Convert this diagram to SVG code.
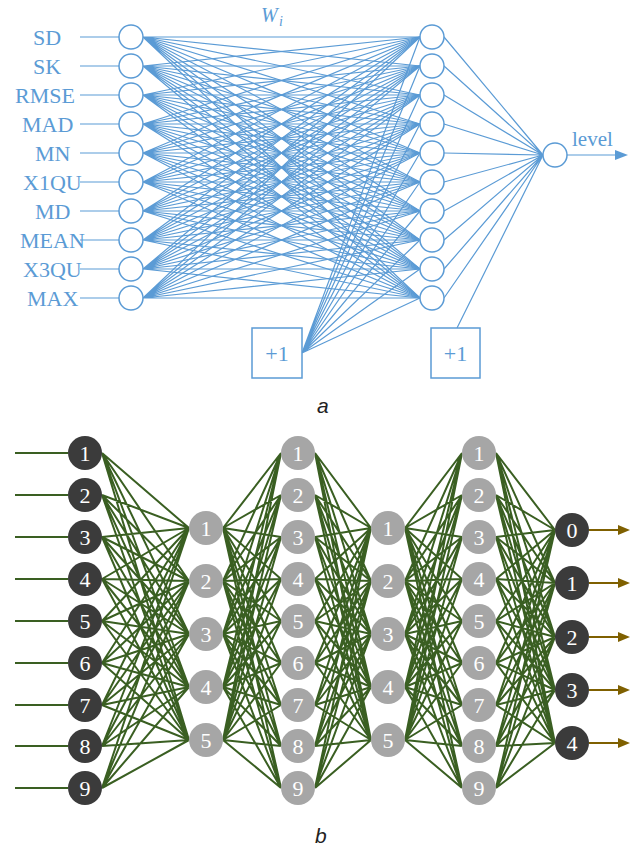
<svg xmlns="http://www.w3.org/2000/svg" width="632" height="846" viewBox="0 0 632 846">
<style>
.bl{stroke:#5b9bd5;stroke-width:1.2;fill:none}
.bn{fill:#fff;stroke:#5b9bd5;stroke-width:1.5}
.bt{font-family:'Liberation Serif','Times New Roman',Tinos,'DejaVu Serif',serif;font-size:22px;fill:#5b9bd5}
.gl{stroke:#3a5f22;stroke-width:2;fill:none}
.dk{fill:#3b3b3b}
.gy{fill:#a6a6a6}
.nt{font-family:'Liberation Serif','Times New Roman',Tinos,'DejaVu Serif',serif;font-size:22px;fill:#fff;text-anchor:middle}
.ar{stroke:#7f6000;stroke-width:2}
.cap{font-family:'Liberation Sans',Arial,sans-serif;font-style:italic;font-size:21px;fill:#222}
</style>
<rect width="632" height="846" fill="#fff"/>
<g id="edges-a">
<path class="bl" d="M143 37 420 37M143 37 420 66M143 37 420 95M143 37 420 124M143 37 420 153M143 37 420 182M143 37 420 211M143 37 420 240M143 37 420 269M143 37 420 298"/>
<path class="bl" d="M143 66 420 37M143 66 420 66M143 66 420 95M143 66 420 124M143 66 420 153M143 66 420 182M143 66 420 211M143 66 420 240M143 66 420 269M143 66 420 298"/>
<path class="bl" d="M143 95 420 37M143 95 420 66M143 95 420 95M143 95 420 124M143 95 420 153M143 95 420 182M143 95 420 211M143 95 420 240M143 95 420 269M143 95 420 298"/>
<path class="bl" d="M143 124 420 37M143 124 420 66M143 124 420 95M143 124 420 124M143 124 420 153M143 124 420 182M143 124 420 211M143 124 420 240M143 124 420 269M143 124 420 298"/>
<path class="bl" d="M143 153 420 37M143 153 420 66M143 153 420 95M143 153 420 124M143 153 420 153M143 153 420 182M143 153 420 211M143 153 420 240M143 153 420 269M143 153 420 298"/>
<path class="bl" d="M143 182 420 37M143 182 420 66M143 182 420 95M143 182 420 124M143 182 420 153M143 182 420 182M143 182 420 211M143 182 420 240M143 182 420 269M143 182 420 298"/>
<path class="bl" d="M143 211 420 37M143 211 420 66M143 211 420 95M143 211 420 124M143 211 420 153M143 211 420 182M143 211 420 211M143 211 420 240M143 211 420 269M143 211 420 298"/>
<path class="bl" d="M143 240 420 37M143 240 420 66M143 240 420 95M143 240 420 124M143 240 420 153M143 240 420 182M143 240 420 211M143 240 420 240M143 240 420 269M143 240 420 298"/>
<path class="bl" d="M143 269 420 37M143 269 420 66M143 269 420 95M143 269 420 124M143 269 420 153M143 269 420 182M143 269 420 211M143 269 420 240M143 269 420 269M143 269 420 298"/>
<path class="bl" d="M143 298 420 37M143 298 420 66M143 298 420 95M143 298 420 124M143 298 420 153M143 298 420 182M143 298 420 211M143 298 420 240M143 298 420 269M143 298 420 298"/>
<path class="bl" d="M302 353 420 37M302 353 420 66M302 353 420 95M302 353 420 124M302 353 420 153M302 353 420 182M302 353 420 211M302 353 420 240M302 353 420 269M302 353 420 298"/>
<path class="bl" d="M444 37 543 155M444 66 543 155M444 95 543 155M444 124 543 155M444 153 543 155M444 182 543 155M444 211 543 155M444 240 543 155M444 269 543 155M444 298 543 155M457 328 543 155"/>
<path class="bl" d="M80 37H119M80 66H119M80 95H119M80 124H119M80 153H119M80 182H119M80 211H119M80 240H119M80 269H119M80 298H119"/>
<path class="bl" d="M567 155H618"/>
<polygon points="615,150 628,155 615,160" fill="#5b9bd5"/>
</g>
<g id="labels-a" class="bt">
<text x="33" y="45">SD</text>
<text x="33" y="74">SK</text>
<text x="15" y="103">RMSE</text>
<text x="22" y="132">MAD</text>
<text x="35" y="161">MN</text>
<text x="23" y="190">X1QU</text>
<text x="35" y="219">MD</text>
<text x="20" y="248">MEAN</text>
<text x="23" y="277">X3QU</text>
<text x="27" y="306">MAX</text>
<text x="572" y="146" style="font-size:21px">level</text>
<text x="261" y="22" style="font-style:italic;font-size:20px">W</text>
<text x="279" y="26" style="font-style:italic;font-size:14px">i</text>
</g>
<g id="input-a">
<circle class="bn" cx="131" cy="37" r="12"/><circle class="bn" cx="131" cy="66" r="12"/><circle class="bn" cx="131" cy="95" r="12"/><circle class="bn" cx="131" cy="124" r="12"/><circle class="bn" cx="131" cy="153" r="12"/><circle class="bn" cx="131" cy="182" r="12"/><circle class="bn" cx="131" cy="211" r="12"/><circle class="bn" cx="131" cy="240" r="12"/><circle class="bn" cx="131" cy="269" r="12"/><circle class="bn" cx="131" cy="298" r="12"/>
</g>
<g id="hidden-a">
<circle class="bn" cx="432" cy="37" r="12"/><circle class="bn" cx="432" cy="66" r="12"/><circle class="bn" cx="432" cy="95" r="12"/><circle class="bn" cx="432" cy="124" r="12"/><circle class="bn" cx="432" cy="153" r="12"/><circle class="bn" cx="432" cy="182" r="12"/><circle class="bn" cx="432" cy="211" r="12"/><circle class="bn" cx="432" cy="240" r="12"/><circle class="bn" cx="432" cy="269" r="12"/><circle class="bn" cx="432" cy="298" r="12"/>
</g>
<g id="output-a"><circle class="bn" cx="555" cy="155" r="12"/></g>
<g id="bias1-a"><rect class="bn" x="252" y="328" width="50" height="50"/><text class="bt" x="277" y="361" text-anchor="middle">+1</text></g>
<g id="bias2-a"><rect class="bn" x="431" y="328" width="49" height="50"/><text class="bt" x="455.5" y="361" text-anchor="middle">+1</text></g>
<text class="cap" x="317" y="413">a</text>
<g id="edges-b">
<path class="gl" d="M15 453H68M15 495H68M15 537H68M15 579H68M15 621H68M15 663H68M15 705H68M15 746H68M15 788H68"/>
<path class="gl" d="M102 453 189 528M102 453 189 581M102 453 189 634M102 453 189 687M102 453 189 740M102 495 189 528M102 495 189 581M102 495 189 634M102 495 189 687M102 495 189 740M102 537 189 528M102 537 189 581M102 537 189 634M102 537 189 687M102 537 189 740M102 579 189 528M102 579 189 581M102 579 189 634M102 579 189 687M102 579 189 740M102 621 189 528M102 621 189 581M102 621 189 634M102 621 189 687M102 621 189 740M102 663 189 528M102 663 189 581M102 663 189 634M102 663 189 687M102 663 189 740M102 705 189 528M102 705 189 581M102 705 189 634M102 705 189 687M102 705 189 740M102 746 189 528M102 746 189 581M102 746 189 634M102 746 189 687M102 746 189 740M102 788 189 528M102 788 189 581M102 788 189 634M102 788 189 687M102 788 189 740"/>
<path class="gl" d="M223 528 281 453M223 528 281 495M223 528 281 537M223 528 281 579M223 528 281 621M223 528 281 663M223 528 281 705M223 528 281 746M223 528 281 788M223 581 281 453M223 581 281 495M223 581 281 537M223 581 281 579M223 581 281 621M223 581 281 663M223 581 281 705M223 581 281 746M223 581 281 788M223 634 281 453M223 634 281 495M223 634 281 537M223 634 281 579M223 634 281 621M223 634 281 663M223 634 281 705M223 634 281 746M223 634 281 788M223 687 281 453M223 687 281 495M223 687 281 537M223 687 281 579M223 687 281 621M223 687 281 663M223 687 281 705M223 687 281 746M223 687 281 788M223 740 281 453M223 740 281 495M223 740 281 537M223 740 281 579M223 740 281 621M223 740 281 663M223 740 281 705M223 740 281 746M223 740 281 788"/>
<path class="gl" d="M315 453 371 528M315 453 371 581M315 453 371 634M315 453 371 687M315 453 371 740M315 495 371 528M315 495 371 581M315 495 371 634M315 495 371 687M315 495 371 740M315 537 371 528M315 537 371 581M315 537 371 634M315 537 371 687M315 537 371 740M315 579 371 528M315 579 371 581M315 579 371 634M315 579 371 687M315 579 371 740M315 621 371 528M315 621 371 581M315 621 371 634M315 621 371 687M315 621 371 740M315 663 371 528M315 663 371 581M315 663 371 634M315 663 371 687M315 663 371 740M315 705 371 528M315 705 371 581M315 705 371 634M315 705 371 687M315 705 371 740M315 746 371 528M315 746 371 581M315 746 371 634M315 746 371 687M315 746 371 740M315 788 371 528M315 788 371 581M315 788 371 634M315 788 371 687M315 788 371 740"/>
<path class="gl" d="M405 528 462 453M405 528 462 495M405 528 462 537M405 528 462 579M405 528 462 621M405 528 462 663M405 528 462 705M405 528 462 746M405 528 462 788M405 581 462 453M405 581 462 495M405 581 462 537M405 581 462 579M405 581 462 621M405 581 462 663M405 581 462 705M405 581 462 746M405 581 462 788M405 634 462 453M405 634 462 495M405 634 462 537M405 634 462 579M405 634 462 621M405 634 462 663M405 634 462 705M405 634 462 746M405 634 462 788M405 687 462 453M405 687 462 495M405 687 462 537M405 687 462 579M405 687 462 621M405 687 462 663M405 687 462 705M405 687 462 746M405 687 462 788M405 740 462 453M405 740 462 495M405 740 462 537M405 740 462 579M405 740 462 621M405 740 462 663M405 740 462 705M405 740 462 746M405 740 462 788"/>
<path class="gl" d="M496 453 555 530M496 453 555 583M496 453 555 637M496 453 555 690M496 453 555 743M496 495 555 530M496 495 555 583M496 495 555 637M496 495 555 690M496 495 555 743M496 537 555 530M496 537 555 583M496 537 555 637M496 537 555 690M496 537 555 743M496 579 555 530M496 579 555 583M496 579 555 637M496 579 555 690M496 579 555 743M496 621 555 530M496 621 555 583M496 621 555 637M496 621 555 690M496 621 555 743M496 663 555 530M496 663 555 583M496 663 555 637M496 663 555 690M496 663 555 743M496 705 555 530M496 705 555 583M496 705 555 637M496 705 555 690M496 705 555 743M496 746 555 530M496 746 555 583M496 746 555 637M496 746 555 690M496 746 555 743M496 788 555 530M496 788 555 583M496 788 555 637M496 788 555 690M496 788 555 743"/>
<path class="ar" d="M589 530H620M589 583H620M589 637H620M589 690H620M589 743H620"/>
<path fill="#7f6000" d="M618 525 630 530 618 535ZM618 578 630 583 618 588ZM618 632 630 637 618 642ZM618 685 630 690 618 695ZM618 738 630 743 618 748Z"/>
</g>
<g id="layer1-b">
<circle class="dk" cx="85" cy="453" r="17"/><text class="nt" x="85" y="461">1</text>
<circle class="dk" cx="85" cy="495" r="17"/><text class="nt" x="85" y="503">2</text>
<circle class="dk" cx="85" cy="537" r="17"/><text class="nt" x="85" y="545">3</text>
<circle class="dk" cx="85" cy="579" r="17"/><text class="nt" x="85" y="587">4</text>
<circle class="dk" cx="85" cy="621" r="17"/><text class="nt" x="85" y="629">5</text>
<circle class="dk" cx="85" cy="663" r="17"/><text class="nt" x="85" y="671">6</text>
<circle class="dk" cx="85" cy="705" r="17"/><text class="nt" x="85" y="713">7</text>
<circle class="dk" cx="85" cy="746" r="17"/><text class="nt" x="85" y="754">8</text>
<circle class="dk" cx="85" cy="788" r="17"/><text class="nt" x="85" y="796">9</text>
</g>
<g id="layer2-b">
<circle class="gy" cx="206" cy="528" r="17"/><text class="nt" x="206" y="536">1</text>
<circle class="gy" cx="206" cy="581" r="17"/><text class="nt" x="206" y="589">2</text>
<circle class="gy" cx="206" cy="634" r="17"/><text class="nt" x="206" y="642">3</text>
<circle class="gy" cx="206" cy="687" r="17"/><text class="nt" x="206" y="695">4</text>
<circle class="gy" cx="206" cy="740" r="17"/><text class="nt" x="206" y="748">5</text>
</g>
<g id="layer3-b">
<circle class="gy" cx="298" cy="453" r="17"/><text class="nt" x="298" y="461">1</text>
<circle class="gy" cx="298" cy="495" r="17"/><text class="nt" x="298" y="503">2</text>
<circle class="gy" cx="298" cy="537" r="17"/><text class="nt" x="298" y="545">3</text>
<circle class="gy" cx="298" cy="579" r="17"/><text class="nt" x="298" y="587">4</text>
<circle class="gy" cx="298" cy="621" r="17"/><text class="nt" x="298" y="629">5</text>
<circle class="gy" cx="298" cy="663" r="17"/><text class="nt" x="298" y="671">6</text>
<circle class="gy" cx="298" cy="705" r="17"/><text class="nt" x="298" y="713">7</text>
<circle class="gy" cx="298" cy="746" r="17"/><text class="nt" x="298" y="754">8</text>
<circle class="gy" cx="298" cy="788" r="17"/><text class="nt" x="298" y="796">9</text>
</g>
<g id="layer4-b">
<circle class="gy" cx="388" cy="528" r="17"/><text class="nt" x="388" y="536">1</text>
<circle class="gy" cx="388" cy="581" r="17"/><text class="nt" x="388" y="589">2</text>
<circle class="gy" cx="388" cy="634" r="17"/><text class="nt" x="388" y="642">3</text>
<circle class="gy" cx="388" cy="687" r="17"/><text class="nt" x="388" y="695">4</text>
<circle class="gy" cx="388" cy="740" r="17"/><text class="nt" x="388" y="748">5</text>
</g>
<g id="layer5-b">
<circle class="gy" cx="479" cy="453" r="17"/><text class="nt" x="479" y="461">1</text>
<circle class="gy" cx="479" cy="495" r="17"/><text class="nt" x="479" y="503">2</text>
<circle class="gy" cx="479" cy="537" r="17"/><text class="nt" x="479" y="545">3</text>
<circle class="gy" cx="479" cy="579" r="17"/><text class="nt" x="479" y="587">4</text>
<circle class="gy" cx="479" cy="621" r="17"/><text class="nt" x="479" y="629">5</text>
<circle class="gy" cx="479" cy="663" r="17"/><text class="nt" x="479" y="671">6</text>
<circle class="gy" cx="479" cy="705" r="17"/><text class="nt" x="479" y="713">7</text>
<circle class="gy" cx="479" cy="746" r="17"/><text class="nt" x="479" y="754">8</text>
<circle class="gy" cx="479" cy="788" r="17"/><text class="nt" x="479" y="796">9</text>
</g>
<g id="layer6-b">
<circle class="dk" cx="572" cy="530" r="17"/><text class="nt" x="572" y="538">0</text>
<circle class="dk" cx="572" cy="583" r="17"/><text class="nt" x="572" y="591">1</text>
<circle class="dk" cx="572" cy="637" r="17"/><text class="nt" x="572" y="645">2</text>
<circle class="dk" cx="572" cy="690" r="17"/><text class="nt" x="572" y="698">3</text>
<circle class="dk" cx="572" cy="743" r="17"/><text class="nt" x="572" y="751">4</text>
</g>
<text class="cap" x="315" y="843">b</text>
</svg>
